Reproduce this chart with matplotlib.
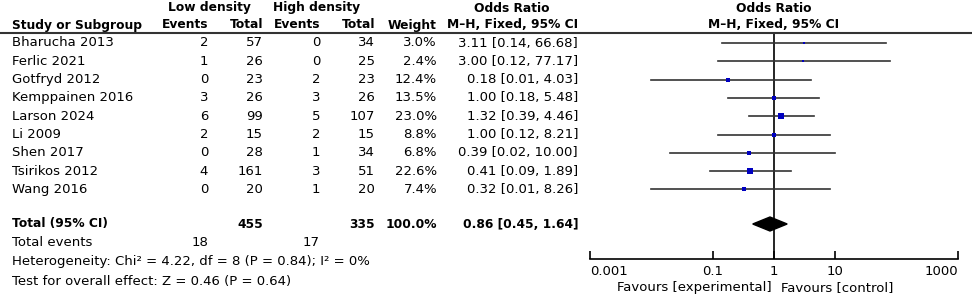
import matplotlib
matplotlib.use("Agg")
import matplotlib.pyplot as plt
from matplotlib.transforms import blended_transform_factory
import numpy as np

studies = ["Bharucha 2013", "Ferlic 2021", "Gotfryd 2012", "Kemppainen 2016", "Larson 2024",
           "Li 2009", "Shen 2017", "Tsirikos 2012", "Wang 2016"]
low_events = [2, 1, 0, 3, 6, 2, 0, 4, 0]
low_total = [57, 26, 23, 26, 99, 15, 28, 161, 20]
high_events = [0, 0, 2, 3, 5, 2, 1, 3, 1]
high_total = [34, 25, 23, 26, 107, 15, 34, 51, 20]
weights = [3.0, 2.4, 12.4, 13.5, 23.0, 8.8, 6.8, 22.6, 7.4]
odds = [3.11, 3.00, 0.18, 1.00, 1.32, 1.00, 0.39, 0.41, 0.32]
ci_low = [0.14, 0.12, 0.01, 0.18, 0.39, 0.12, 0.02, 0.09, 0.01]
ci_high = [66.68, 77.17, 4.03, 5.48, 4.46, 8.21, 10.00, 1.89, 8.26]
total_weight = 100.0
total_or, total_low, total_high = 0.86, 0.45, 1.64
ticks = [0.001, 0.1, 1, 10, 1000]
tick_labels = ["0.001", "0.1", "1", "10", "1000"]

W, H = 972, 296
fig = plt.figure(figsize=(W / 100, H / 100), dpi=100)

# forest axes: x 590..958 px, y 33..259 px (from top)
ax = fig.add_axes([590 / W, (H - 259) / H, (958 - 590) / W, (259 - 33) / H])
ax.set_xscale("log")
ax.set_xlim(0.001, 1000)
step = 18.3
ax.set_ylim((259 - 43) / step, (33 - 43) / step)
for s in ["top", "right", "left"]:
    ax.spines[s].set_visible(False)
ax.spines["bottom"].set_linewidth(1.2)
ax.set_yticks([])
ax.set_xticks(ticks)
ax.set_xticklabels(tick_labels)
ax.minorticks_off()
ax.tick_params(axis="x", direction="in", length=6, width=1.2, labelsize=9.5, pad=4)
labs = ax.get_xticklabels()
labs[0].set_horizontalalignment("left")
labs[-1].set_horizontalalignment("right")
ax.set_facecolor("none")

ypos = np.arange(len(studies))
total_y = (224 - 43) / step

ax.axvline(1, color="black", lw=1.2, zorder=1)
for i in range(len(studies)):
    ax.plot([ci_low[i], ci_high[i]], [ypos[i], ypos[i]], color="#333333", lw=1.2, zorder=2)
    side = 1.3 * np.sqrt(weights[i])
    ax.plot(odds[i], ypos[i], marker="s", color="#0000c0", ms=side * 0.72, mew=0, zorder=3)

dh = 7 / step
ax.fill([total_low, total_or, total_high, total_or], [total_y, total_y - dh, total_y, total_y + dh],
        color="black", zorder=3)

# header rule
fig.add_artist(plt.Line2D([0, 1], [(H - 33) / H] * 2, color="#333333", lw=1.5))

tr = blended_transform_factory(fig.transFigure, ax.transData)
fs = 9.5
fsb = 8.8
fam = "DejaVu Sans"


def put(xpx, y, s, ha="left", bold=False):
    ax.text(xpx / W, y, s, transform=tr, ha=ha, va="center", fontsize=fsb if bold else fs,
            fontweight="bold" if bold else "normal", family=fam, clip_on=False)


def head(xpx, ypx, s, ha="center"):
    fig.text(xpx / W, (H - ypx) / H, s, ha=ha, va="center", fontsize=fsb, fontweight="bold", family=fam)


head(209, 8, "Low density")
head(317, 8, "High density")
head(512, 8, "Odds Ratio")
head(774, 8, "Odds Ratio")
head(12, 25, "Study or Subgroup", ha="left")
head(208, 25, "Events", ha="right")
head(263, 25, "Total", ha="right")
head(320, 25, "Events", ha="right")
head(375, 25, "Total", ha="right")
head(437, 25, "Weight", ha="right")
head(578, 25, "M\u2013H, Fixed, 95% CI", ha="right")
head(774, 25, "M\u2013H, Fixed, 95% CI")

for i, name in enumerate(studies):
    y = ypos[i]
    put(12, y, name)
    put(208, y, str(low_events[i]), ha="right")
    put(263, y, str(low_total[i]), ha="right")
    put(320, y, str(high_events[i]), ha="right")
    put(375, y, str(high_total[i]), ha="right")
    put(437, y, f"{weights[i]:.1f}%", ha="right")
    put(578, y, f"{odds[i]:.2f} [{ci_low[i]:.2f}, {ci_high[i]:.2f}]", ha="right")

put(12, total_y, "Total (95% CI)", bold=True)
put(263, total_y, str(sum(low_total)), ha="right", bold=True)
put(375, total_y, str(sum(high_total)), ha="right", bold=True)
put(437, total_y, f"{total_weight:.1f}%", ha="right", bold=True)
put(578, total_y, f"{total_or:.2f} [{total_low:.2f}, {total_high:.2f}]", ha="right", bold=True)

y_ev = (243 - 43) / step
put(12, y_ev, "Total events")
put(208, y_ev, str(sum(low_events)), ha="right")
put(320, y_ev, str(sum(high_events)), ha="right")
put(12, (262 - 43) / step, "Heterogeneity: Chi\u00b2 = 4.22, df = 8 (P = 0.84); I\u00b2 = 0%")
put(12, (281 - 43) / step, "Test for overall effect: Z = 0.46 (P = 0.64)")

fig.text(772 / W, (H - 288) / H, "Favours [experimental]", ha="right", va="center", fontsize=fs, family=fam)
fig.text(781 / W, (H - 288) / H, "Favours [control]", ha="left", va="center", fontsize=fs, family=fam)

fig.savefig("out.png", dpi=100)
